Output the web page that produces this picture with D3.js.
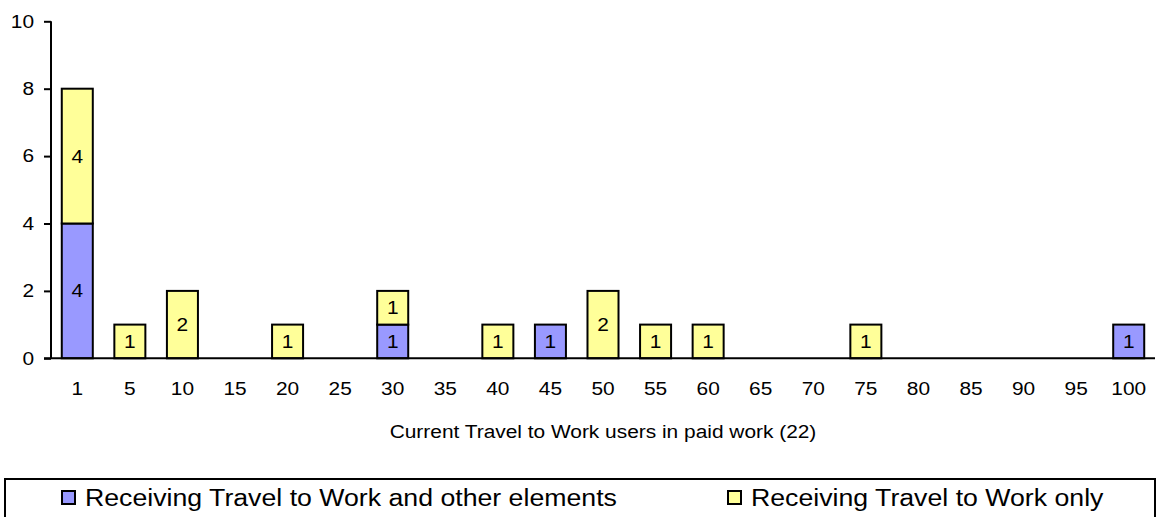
<!DOCTYPE html>
<html><head><meta charset="utf-8">
<script src="https://cdn.jsdelivr.net/npm/d3@7"></script>
<style>body{margin:0;background:#fff}svg{display:block}text{font-family:"Liberation Sans",Arial,sans-serif;fill:#000}</style>
</head><body>
<svg id="c" width="1160" height="517"></svg>
<script>
const categories = ["1","5","10","15","20","25","30","35","40","45","50","55","60","65","70","75","80","85","90","95","100"];
const otherElements = [4,0,0,0,0,0,1,0,0,1,0,0,0,0,0,0,0,0,0,0,1];
const travelOnly    = [4,1,2,0,1,0,1,0,1,0,2,1,1,0,0,1,0,0,0,0,0];
const seriesNames = ["Receiving Travel to Work and other elements","Receiving Travel to Work only"];
const yTicks = [0,2,4,6,8,10];
const xTitle = "Current Travel to Work users in paid work (22)";
const colors = ["#9999ff","#ffff99"];

const svg = d3.select("#c");
const L = 51, R = 1155, T = 21.3, B = 358.3;
const x = d3.scaleBand().domain(categories).range([L,R]).paddingInner(0.41).paddingOuter(0.205);
const y = d3.scaleLinear().domain([0,10]).range([B,T]);

const rows = categories.map((c,i)=>({cat:c, a:otherElements[i], b:travelOnly[i]}));
const stack = d3.stack().keys(["a","b"])(rows);

stack.forEach((layer,si)=>{
  const g = svg.append("g");
  layer.forEach(d=>{
    const v = d[1]-d[0];
    if (v<=0) return;
    g.append("rect").attr("x",x(d.data.cat)).attr("y",y(d[1])).attr("width",x.bandwidth()).attr("height",y(d[0])-y(d[1]))
      .attr("fill",colors[si]).attr("stroke","#000").attr("stroke-width",2);
    g.append("text").attr("x",x(d.data.cat)+x.bandwidth()/2).attr("y",(y(d[0])+y(d[1]))/2).attr("dy","0.36em")
      .attr("text-anchor","middle").style("font-size","18px").text(v);
  });
});

// y axis
const ya = svg.append("g").attr("transform",`translate(${L},0)`).call(d3.axisLeft(y).tickValues(yTicks).tickSize(7).tickPadding(10));
ya.select(".domain").attr("stroke","#000").attr("stroke-width",2).attr("d",`M0,${T}V${B}`);
ya.selectAll(".tick line").attr("stroke","#000").attr("stroke-width",2);
ya.selectAll(".tick text").style("font-size","18px").attr("font-family",null);

// x axis
const xa = svg.append("g").attr("transform",`translate(0,${B})`).call(d3.axisBottom(x).tickSize(0).tickPadding(24));
xa.select(".domain").attr("stroke","#000").attr("stroke-width",2).attr("d",`M${L-7},0H${R}`);
xa.selectAll(".tick text").style("font-size","18px").attr("font-family",null);

svg.append("text").attr("x",(L+R)/2).attr("y",438).attr("text-anchor","middle").style("font-size","18px").text(xTitle);

// legend
svg.append("rect").attr("x",5).attr("y",479).attr("width",1150).attr("height",60).attr("fill","none").attr("stroke","#000").attr("stroke-width",2);
const lx = [62,728];
seriesNames.forEach((n,i)=>{
  svg.append("rect").attr("x",lx[i]).attr("y",491).attr("width",13).attr("height",13).attr("fill",colors[i]).attr("stroke","#000").attr("stroke-width",2);
  svg.append("text").attr("x",lx[i]+23).attr("y",506).style("font-size","23px").text(n);
});

// the reference font is wider than Liberation Sans: stretch horizontally
svg.selectAll("text").each(function(){
  const w = this.getComputedTextLength();
  if (w>0) d3.select(this).attr("textLength", w*1.16).attr("lengthAdjust","spacingAndGlyphs");
});
</script>
</body></html>
